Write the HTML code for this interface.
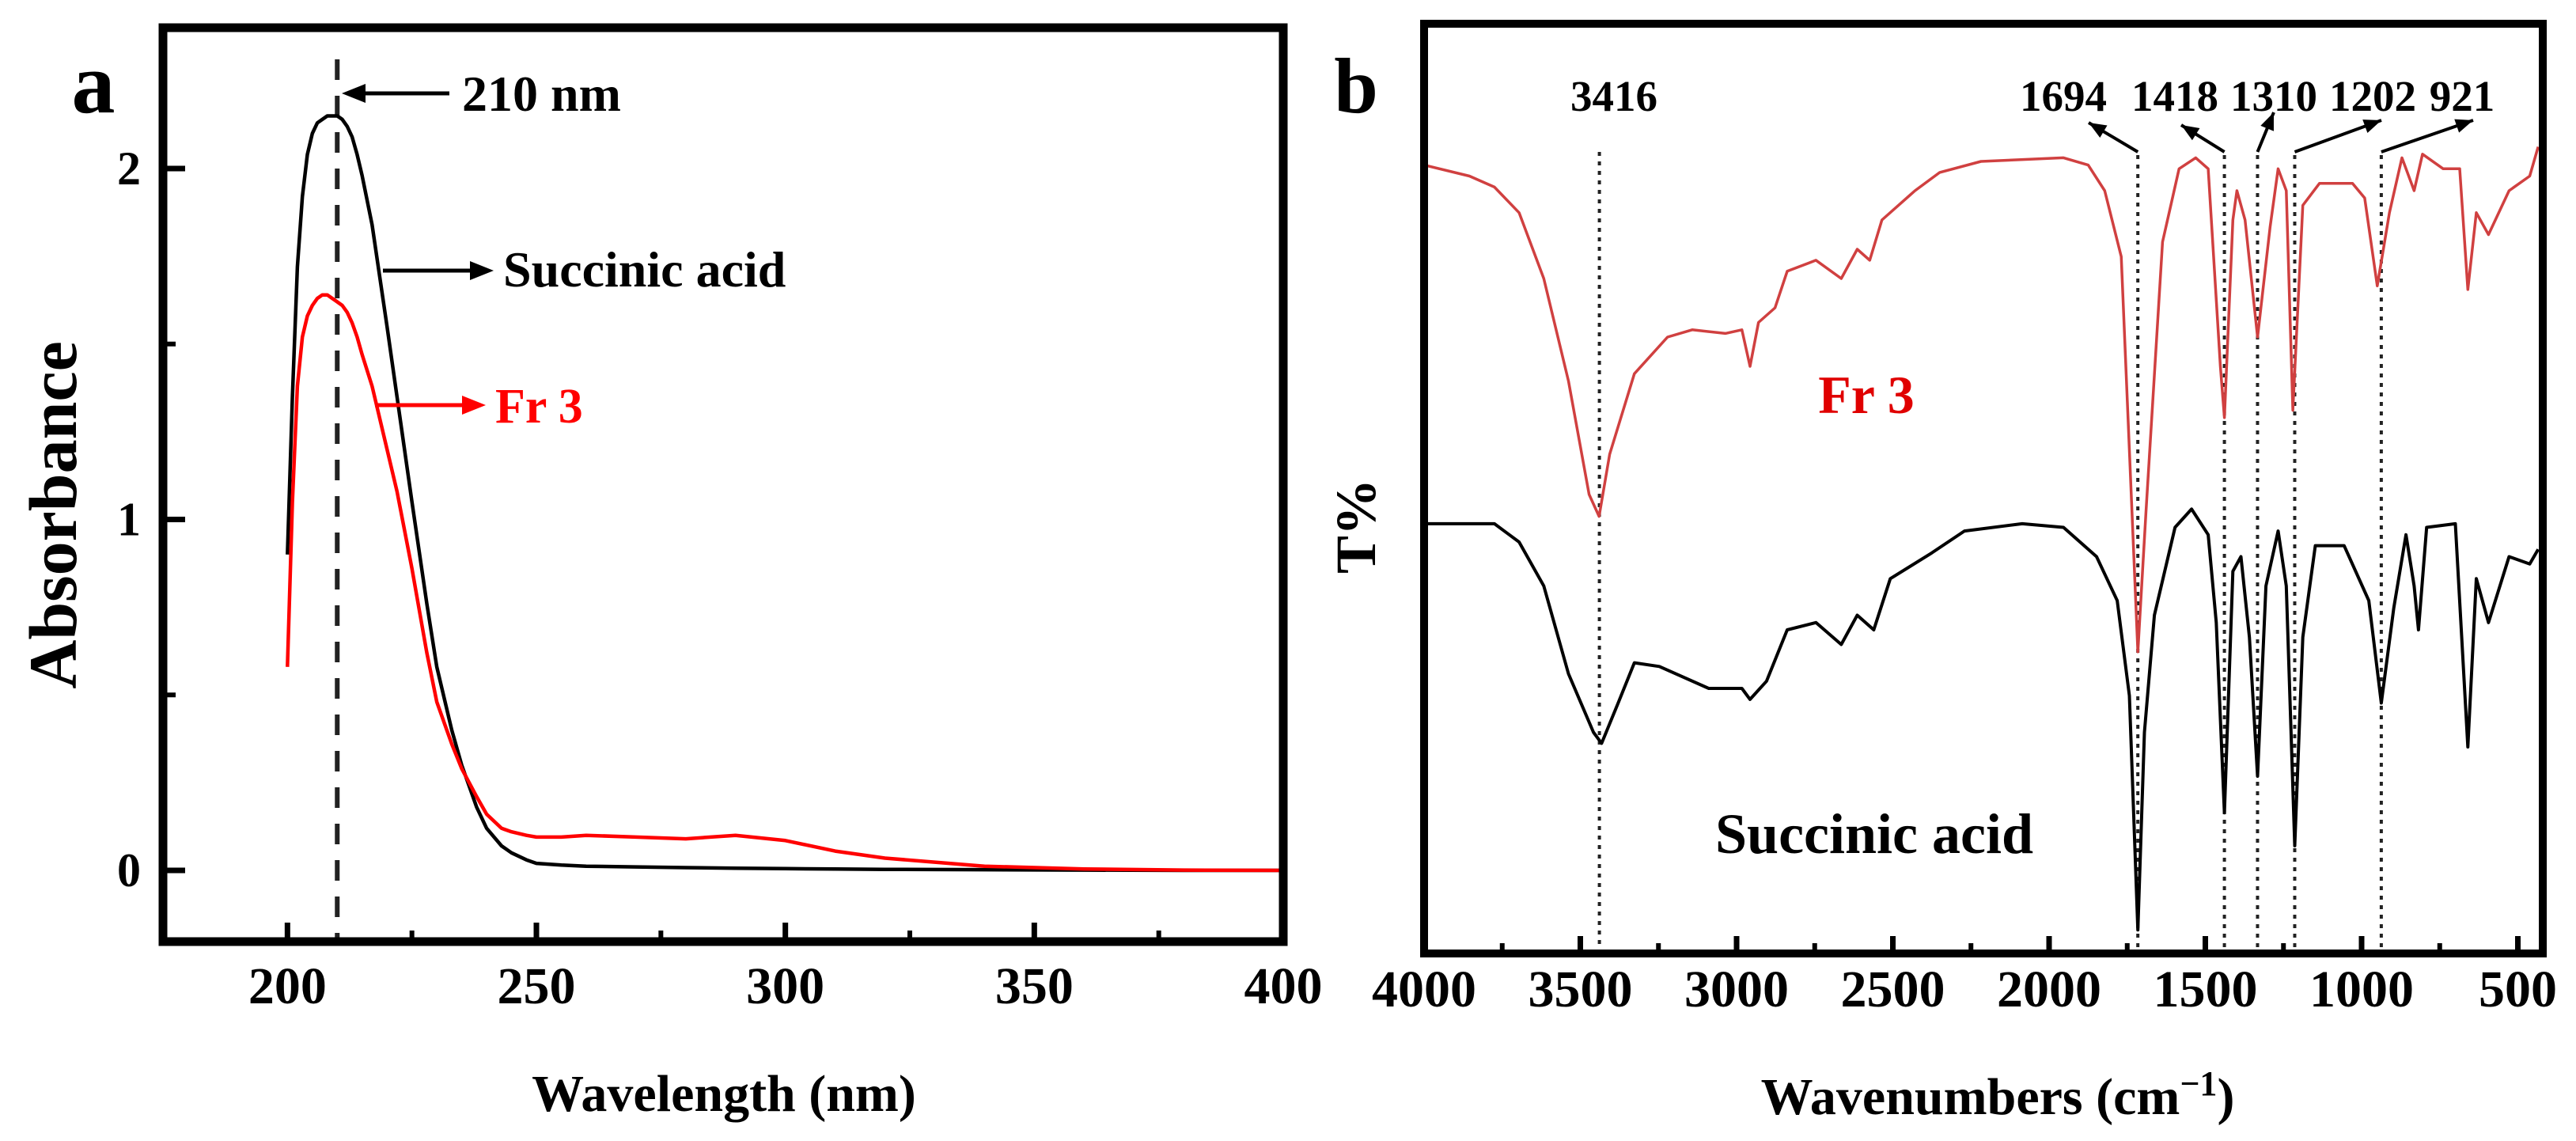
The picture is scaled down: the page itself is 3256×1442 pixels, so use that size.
<!DOCTYPE html>
<html><head><meta charset="utf-8"><style>
html,body{margin:0;padding:0;background:#fff;}
svg{display:block;font-family:"Liberation Serif",serif;font-weight:bold;}
</style></head><body>
<svg id="fig" width="3256" height="1442" viewBox="0 0 3256 1442" xmlns="http://www.w3.org/2000/svg">
<g id="pa"></g>
<g id="pb"></g>
</svg>
<script>
// ---- Panel a data (UV-Vis) ----
const uvWavelength = [200,201,202,203,204,205,206,207,208,209,210,211,212,213,214,215,217,220,222,225,228,230,233,235,238,240,243,245,248,250,255,260,270,280,290,300,310,320,340,360,380,400];
const uvSuccinic   = [0.90,1.35,1.72,1.92,2.04,2.10,2.13,2.14,2.15,2.15,2.15,2.14,2.12,2.09,2.04,1.98,1.84,1.55,1.35,1.05,0.76,0.58,0.40,0.30,0.18,0.12,0.07,0.05,0.03,0.02,0.015,0.012,0.01,0.008,0.006,0.005,0.004,0.003,0.002,0.001,0.0,0.0];
const uvFr3        = [0.58,1.05,1.38,1.52,1.58,1.61,1.63,1.64,1.64,1.63,1.62,1.61,1.59,1.56,1.52,1.47,1.38,1.20,1.08,0.86,0.62,0.48,0.36,0.29,0.21,0.16,0.12,0.11,0.10,0.095,0.095,0.10,0.095,0.09,0.10,0.085,0.055,0.035,0.012,0.004,0.001,0.0];
const uvXTicks = [200,250,300,350,400];
const uvXMinor = [225,275,325,375];
const uvYTicks = [0,1,2];
const uvYMinor = [0.5,1.5];
const uvPeak = 210;

// ---- Panel b data (FTIR) ----
const irFr3Wn = [4000,3855,3775,3696,3617,3538,3472,3440,3406,3327,3221,3142,3036,2983,2957,2930,2877,2838,2746,2665,2614,2574,2535,2429,2350,2218,1954,1875,1822,1769,1716,1690,1637,1584,1531,1491,1452,1439,1412,1399,1373,1333,1293,1267,1241,1220,1188,1135,1029,990,950,911,871,832,805,739,686,660,633,594,528,462,435];
const irFr3T  = [1075,1060,1045,1010,920,780,625,595,680,790,840,850,845,850,800,860,880,930,945,920,960,945,1000,1040,1065,1080,1085,1075,1040,950,410,600,970,1070,1085,1070,800,730,1000,1040,1000,840,990,1070,1040,740,1020,1050,1050,1030,910,1010,1085,1040,1090,1070,1070,905,1010,980,1040,1060,1100];
const irSucWn = [4000,3775,3696,3617,3538,3458,3432,3379,3327,3247,3089,2983,2957,2904,2838,2746,2665,2614,2561,2508,2376,2271,2086,1954,1848,1782,1743,1716,1695,1663,1597,1544,1491,1465,1439,1412,1386,1359,1333,1306,1267,1241,1214,1188,1148,1056,977,937,897,858,832,818,792,700,660,633,594,528,462,435];
const irSucT  = [585,585,560,500,380,300,285,340,395,390,360,360,345,370,440,450,420,460,440,510,545,575,585,580,540,480,350,30,300,460,580,605,570,450,190,520,540,430,240,500,575,500,145,430,555,555,480,340,470,570,500,440,580,585,280,510,450,540,530,550];
const irXTicks = [4000,3500,3000,2500,2000,1500,1000,500];
const irXMinor = [3750,3250,2750,2250,1750,1250,750];
const irPeakLabels = ["3416","1694","1418","1310","1202","921"];
const irPeakLines  = [3439,1716,1439,1333,1214,937];

const NS="http://www.w3.org/2000/svg";
function mk(parent,tag,attrs,name,text){
  const e=document.createElementNS(NS,tag);
  for(const k in attrs) e.setAttribute(k,attrs[k]);
  
  
  if(text!==undefined) e.textContent=text;
  parent.appendChild(e); return e;
}
function pathFrom(xs,ys,fx,fy){let d='';for(let i=0;i<xs.length;i++){d+=(i?'L':'M')+fx(xs[i]).toFixed(1)+' '+fy(ys[i]).toFixed(1);}return d;}

// ---------- Panel a ----------
const pa=document.getElementById('pa');
const aL=206,aR=1622,aT=35,aB=1190;
const ax=v=>aL+(v-175)/(400-175)*(aR-aL);
const ay=v=>1100-v*443.5;
mk(pa,'line',{x1:ax(uvPeak),x2:ax(uvPeak),y1:75,y2:aB,stroke:'#222','stroke-width':6,'stroke-dasharray':'26 20'},'peak-210-dashed-line');
mk(pa,'path',{d:pathFrom(uvWavelength,uvSuccinic,ax,ay),fill:'none',stroke:'#000','stroke-width':4.5,'stroke-linejoin':'round'},'succinic-acid-uv-line');
mk(pa,'path',{d:pathFrom(uvWavelength,uvFr3,ax,ay),fill:'none',stroke:'#f00','stroke-width':4.5,'stroke-linejoin':'round'},'fr3-uv-line');
uvXTicks.forEach(t=>{mk(pa,'line',{x1:ax(t),x2:ax(t),y1:aB,y2:aB-24,stroke:'#000','stroke-width':7},'x-tick');
  mk(pa,'text',{x:ax(t),y:1268,'font-size':66,'text-anchor':'middle'},'x-tick-label',String(t));});
uvXMinor.forEach(t=>mk(pa,'line',{x1:ax(t),x2:ax(t),y1:aB,y2:aB-14,stroke:'#000','stroke-width':6},'x-minor-tick'));
uvYTicks.forEach(t=>{mk(pa,'line',{x1:aL,x2:aL+28,y1:ay(t),y2:ay(t),stroke:'#000','stroke-width':7},'y-tick');
  mk(pa,'text',{x:178,y:ay(t)+20,'font-size':60,'text-anchor':'end'},'y-tick-label',String(t));});
uvYMinor.forEach(t=>mk(pa,'line',{x1:aL,x2:aL+16,y1:ay(t),y2:ay(t),stroke:'#000','stroke-width':6},'y-minor-tick'));
mk(pa,'rect',{x:aL,y:aT,width:aR-aL,height:aB-aT,fill:'none',stroke:'#000','stroke-width':11},'plot-frame-a');
mk(pa,'line',{x1:568,x2:450,y1:118,y2:118,stroke:'#000','stroke-width':5},'arrow-210nm');
mk(pa,'polygon',{points:'432,118 462,106 462,130',fill:'#000'},'arrowhead-210nm');
mk(pa,'text',{x:584,y:140,'font-size':64},'label-210nm','210 nm');
mk(pa,'line',{x1:484,x2:600,y1:342,y2:342,stroke:'#000','stroke-width':5},'arrow-succinic');
mk(pa,'polygon',{points:'624,342 594,330 594,354',fill:'#000'},'arrowhead-succinic');
mk(pa,'text',{x:636,y:362,'font-size':64},'label-succinic-acid-a','Succinic acid');
mk(pa,'line',{x1:474,x2:590,y1:512,y2:512,stroke:'#f00','stroke-width':5},'arrow-fr3');
mk(pa,'polygon',{points:'614,512 584,500 584,524',fill:'#f00'},'arrowhead-fr3');
mk(pa,'text',{x:626,y:534,'font-size':62,fill:'#f00'},'label-fr3-a','Fr 3');
mk(pa,'text',{x:118,y:142,'font-size':110,'text-anchor':'middle'},'panel-label-a','a');
mk(pa,'text',{x:0,y:0,'font-size':86,'text-anchor':'middle',transform:'translate(96,651) rotate(-90)'},'y-axis-title-a','Absorbance');
mk(pa,'text',{x:915,y:1404,'font-size':66,'text-anchor':'middle'},'x-axis-title-a','Wavelength (nm)');

// ---------- Panel b ----------
const pb=document.getElementById('pb');
const bL=1800,bR=3214,bT=30,bB=1205;
const bx=w=>bL+(4000-w)/500*197.5;
const by=v=>1203-v*0.925;
irPeakLines.forEach((w,i)=>{const top=i===0?192:196;
  mk(pb,'line',{x1:bx(w),x2:bx(w),y1:top,y2:bB,stroke:'#222','stroke-width':4,'stroke-dasharray':'5 7'},'peak-dotted-line');});
mk(pb,'path',{d:pathFrom(irFr3Wn,irFr3T,bx,by),fill:'none',stroke:'#d04040','stroke-width':3.5,'stroke-linejoin':'round'},'fr3-ir-line');
mk(pb,'path',{d:pathFrom(irSucWn,irSucT,bx,by),fill:'none',stroke:'#000','stroke-width':4,'stroke-linejoin':'round'},'succinic-acid-ir-line');
irXTicks.forEach(t=>{mk(pb,'line',{x1:bx(t),x2:bx(t),y1:bB,y2:bB-22,stroke:'#000','stroke-width':7},'x-tick');
  mk(pb,'text',{x:bx(t),y:1272,'font-size':66,'text-anchor':'middle'},'x-tick-label',String(t));});
irXMinor.forEach(t=>mk(pb,'line',{x1:bx(t),x2:bx(t),y1:bB,y2:bB-13,stroke:'#000','stroke-width':6},'x-minor-tick'));
mk(pb,'rect',{x:bL,y:bT,width:bR-bL,height:bB-bT,fill:'none',stroke:'#000','stroke-width':10},'plot-frame-b');
const labX=[2040,2608,2749,2874,2999,3112];
irPeakLabels.forEach((s,i)=>mk(pb,'text',{x:labX[i],y:140,'font-size':55,'text-anchor':'middle'},'peak-label',s));
const arrows=[[1716,2640,155],[1439,2757,158],[1333,2874,142],[1214,3010,152],[937,3126,152]];
arrows.forEach(a=>{const x0=bx(a[0]),y0=192,x1=a[1],y1=a[2];
  mk(pb,'line',{x1:x0,y1:y0,x2:x1,y2:y1,stroke:'#000','stroke-width':4},'peak-arrow');
  const ang=Math.atan2(y1-y0,x1-x0),L=22,W=9;
  const p=[[x1,y1],[x1-L*Math.cos(ang)+W*Math.sin(ang),y1-L*Math.sin(ang)-W*Math.cos(ang)],[x1-L*Math.cos(ang)-W*Math.sin(ang),y1-L*Math.sin(ang)+W*Math.cos(ang)]];
  mk(pb,'polygon',{points:p.map(q=>q.join(',')).join(' '),fill:'#000'},'peak-arrowhead');});
mk(pb,'text',{x:2359,y:522,'font-size':68,'text-anchor':'middle',fill:'#e00000'},'label-fr3-b','Fr 3');
mk(pb,'text',{x:2369,y:1078,'font-size':72,'text-anchor':'middle'},'label-succinic-acid-b','Succinic acid');
mk(pb,'text',{x:1714,y:142,'font-size':100,'text-anchor':'middle'},'panel-label-b','b');
mk(pb,'text',{x:0,y:0,'font-size':72,'text-anchor':'middle',transform:'translate(1738,665) rotate(-90)'},'y-axis-title-b','T%');
const tt=mk(pb,'text',{x:2525,y:1408,'font-size':66,'text-anchor':'middle'},'x-axis-title-b','Wavenumbers (cm');
const ts=document.createElementNS(NS,'tspan');ts.setAttribute('dy','-24');ts.setAttribute('font-size','44');ts.textContent='\u22121';


tt.appendChild(ts);
const ts2=document.createElementNS(NS,'tspan');ts2.setAttribute('dy','24');ts2.textContent=')';


tt.appendChild(ts2);
</script>
</body></html>
